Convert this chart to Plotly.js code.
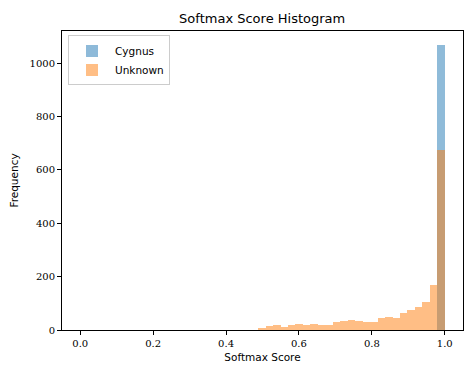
<!DOCTYPE html>
<html>
<head>
<meta charset="utf-8">
<script src="https://cdn.plot.ly/plotly-3.0.1.min.js"></script>
<style>html,body{margin:0;padding:0;background:#fff;}#chart{width:464px;height:367px;}</style>
</head>
<body>
<div id="chart"></div>
<script>
// Histogram bins (shared bin layout)
const binStart = 0.488;
const binEnd = 1.0;
const unknownCounts = [7, 15, 19, 10, 19, 22, 19, 22, 19, 19, 29, 32, 37, 35, 31, 31, 46, 50, 46, 62, 75, 87, 105, 170, 674];
const cygnusCounts  = [0, 0, 0, 0, 0, 0, 0, 0, 0, 0, 0, 0, 0, 0, 0, 0, 0, 0, 0, 0, 0, 0, 0, 0, 1068];
const seriesNames = ["Cygnus", "Unknown"];
const xTickVals = [0.0, 0.2, 0.4, 0.6, 0.8, 1.0];
const xTickText = ["0.0", "0.2", "0.4", "0.6", "0.8", "1.0"];
const yTickVals = [0, 200, 400, 600, 800, 1000];

const nBins = unknownCounts.length;
const binWidth = (binEnd - binStart) / nBins;
const centers = unknownCounts.map((_, i) => binStart + binWidth * (i + 0.5));

const data = [
  {type: 'bar', name: seriesNames[0], x: centers, y: cygnusCounts, width: binWidth,
   marker: {color: '#1f77b4', line: {width: 0}}, opacity: 0.5},
  {type: 'bar', name: seriesNames[1], x: centers, y: unknownCounts, width: binWidth,
   marker: {color: '#ff7f0e', line: {width: 0}}, opacity: 0.5}
];

const tickFont = {family: 'DejaVu Serif', size: 10, color: '#000'};
const sansFont = {family: 'DejaVu Sans', size: 10.5, color: '#000'};

const layout = {
  width: 464, height: 367,
  margin: {l: 62, r: 1, t: 31, b: 37},
  paper_bgcolor: '#fff', plot_bgcolor: '#fff',
  barmode: 'overlay', bargap: 0,
  showlegend: true,
  title: {text: 'Softmax Score Histogram', font: {family: 'DejaVu Sans', size: 13, color: '#000'},
          x: 0.565, xanchor: 'center', y: 1 - 18/367, yanchor: 'middle', xref: 'container', yref: 'container'},
  xaxis: {range: [-0.05, 1.05], tickvals: xTickVals, ticktext: xTickText, ticks: 'outside', ticklen: 4,
          tickwidth: 1, tickcolor: '#000', showline: true, mirror: true, linecolor: '#000', linewidth: 1,
          showgrid: false, zeroline: false, tickfont: tickFont,
          title: {text: 'Softmax Score', font: sansFont, standoff: 5}},
  yaxis: {range: [0, 1121], tickvals: yTickVals, ticks: 'outside', ticklen: 4,
          tickwidth: 1, tickcolor: '#000', showline: true, mirror: true, linecolor: '#000', linewidth: 1,
          showgrid: false, zeroline: false, tickfont: tickFont,
          title: {text: 'Frequency', font: sansFont, standoff: 8}},
  legend: {x: 0.015, y: 0.985, xanchor: 'left', yanchor: 'top', bgcolor: 'rgba(255,255,255,0.8)',
           bordercolor: '#cccccc', borderwidth: 1, font: {family: 'DejaVu Sans', size: 10.5, color: '#000'},
           traceorder: 'normal', itemwidth: 36, tracegroupgap: 0}
};

Plotly.newPlot('chart', data, layout, {displayModeBar: false, staticPlot: true});
</script>
</body>
</html>
